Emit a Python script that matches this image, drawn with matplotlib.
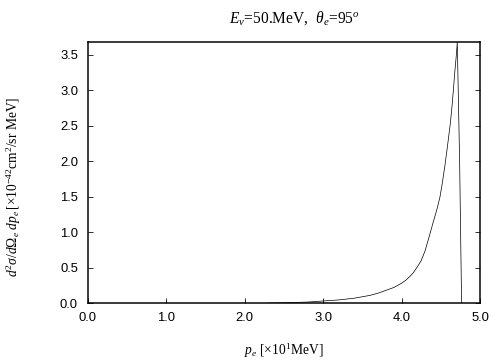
import matplotlib
matplotlib.use("Agg")
import matplotlib.pyplot as plt
import numpy as np

# electron momentum [x10 MeV] vs cross section
p_e = [2.3, 2.5, 2.8, 3.0, 3.2, 3.4, 3.6, 3.7, 3.8, 3.9, 4.0, 4.05, 4.1, 4.15,
       4.2, 4.25, 4.3, 4.36, 4.4, 4.45, 4.49, 4.52, 4.55, 4.58, 4.62, 4.64,
       4.66, 4.68, 4.70, 4.71, 4.74, 4.765]
dsig = [0.0, 0.005, 0.015, 0.03, 0.045, 0.07, 0.11, 0.14, 0.18, 0.22, 0.28,
        0.32, 0.37, 0.43, 0.51, 0.6, 0.74, 0.97, 1.13, 1.32, 1.5, 1.7, 1.92,
        2.17, 2.52, 2.74, 3.0, 3.28, 3.52, 3.68, 2.0, 0.0]
xticks = [0.0, 1.0, 2.0, 3.0, 4.0, 5.0]
yticks = [0.0, 0.5, 1.0, 1.5, 2.0, 2.5, 3.0, 3.5]

plt.rcParams['mathtext.fontset'] = 'custom'
plt.rcParams['mathtext.rm'] = 'Liberation Serif'
plt.rcParams['mathtext.it'] = 'Liberation Serif:italic'
plt.rcParams['mathtext.bf'] = 'Liberation Serif:bold'

fig = plt.figure(figsize=(7, 5), dpi=72)
ax = fig.add_axes([0.1746, 0.158, 0.7778, 0.725])
ax.plot(p_e, dsig, color="black", lw=0.7)

ax.set_xlim(0, 5.0)
ax.set_ylim(0, 3.68)
ax.set_xticks(xticks)
ax.set_yticks(yticks)
ax.set_xticklabels(["%.1f" % v for v in xticks], family="Liberation Sans", fontsize=13)
ax.set_yticklabels(["%.1f" % v for v in yticks], family="Liberation Sans", fontsize=13)
ax.tick_params(direction="in", length=5, width=0.8, right=True, top=False)
ax.tick_params(axis="x", pad=9)
ax.tick_params(axis="y", pad=10)
for s in ax.spines.values():
    s.set_linewidth(1.5)

fig.text(0.585, 0.95, r"$E_\nu$=50.MeV,  $\theta_e$=95$^o$", family="Liberation Serif",
         fontsize=15.5, ha="center", va="center")
ax.set_xlabel(r"$p_e$ [$\times$10$^1$MeV]", family="Liberation Serif", fontsize=13.5,
              va="center")
ax.xaxis.set_label_coords(0.5, -0.18)
ax.set_ylabel(r"$d^2\sigma/d\Omega_e\ dp_e\,$[$\times$10$^{-42}$cm$^2$/sr MeV]",
              family="Liberation Serif", fontsize=13.5, va="center")
ax.yaxis.set_label_coords(-0.19, 0.444)

fig.savefig("out.png", dpi=72)
